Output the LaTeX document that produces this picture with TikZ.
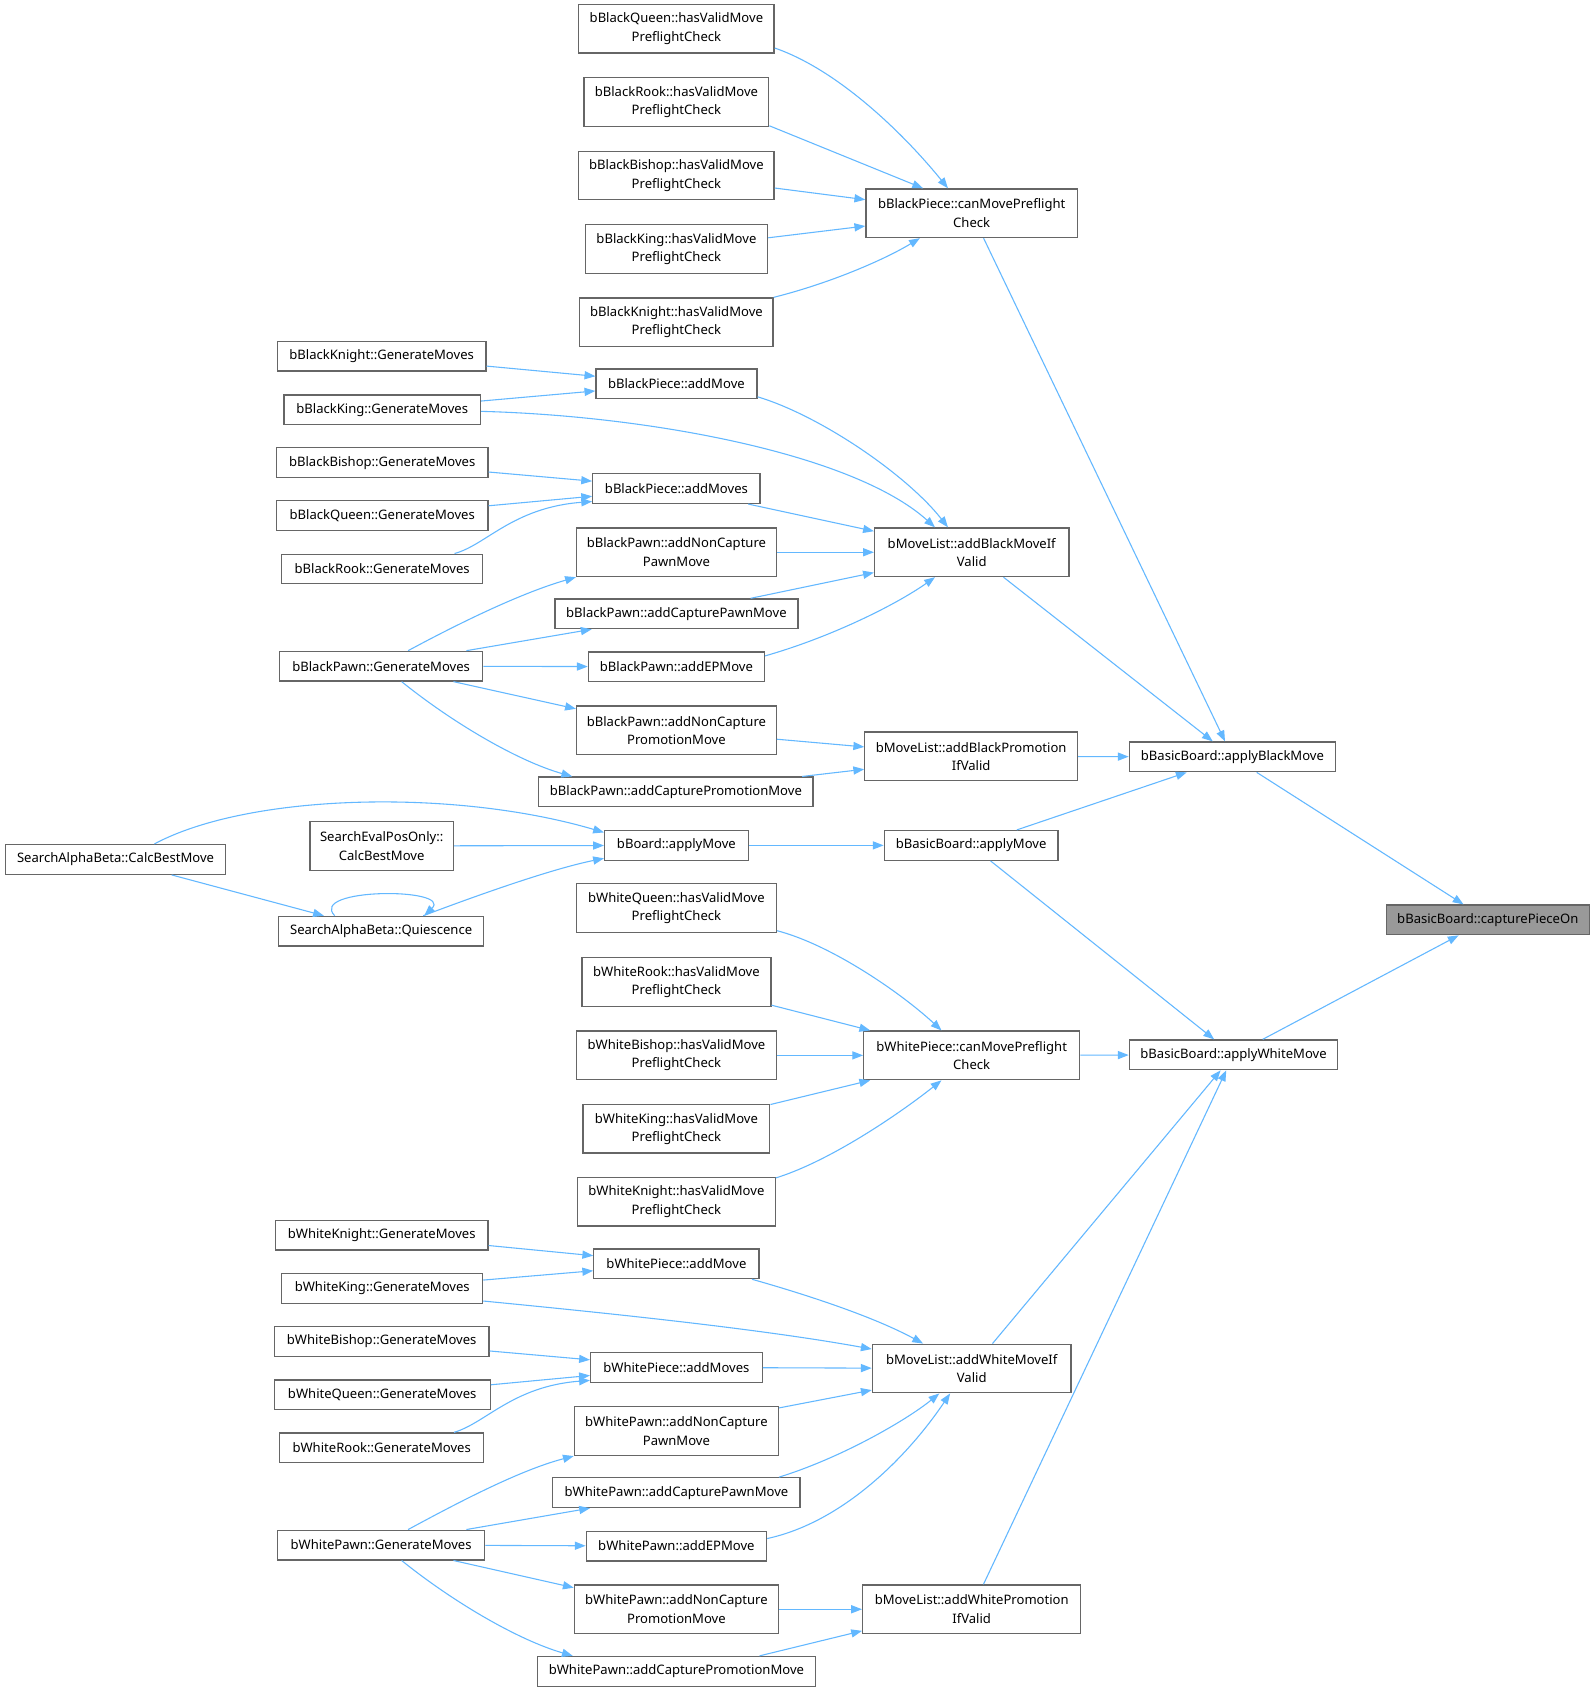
\documentclass[tikz,border=0pt]{standalone}
\usepackage{fontspec}
\setmainfont{Noto Sans}
\usetikzlibrary{arrows.meta}
\definecolor{edgeblue}{HTML}{63B8FF}
\definecolor{bordergray}{HTML}{666666}
\definecolor{fillgray}{HTML}{999999}
\begin{document}
\begin{tikzpicture}[x=1pt,y=1pt,
  nb/.style={draw=bordergray, line width=1.2pt, fill=white, inner sep=0pt, align=center,
     font=\fontsize{12.1}{17}\selectfont},
  one/.style={nb, minimum height=27.5pt},
  two/.style={nb, minimum height=45pt},
  e/.style={draw=edgeblue, line width=1pt, -{Triangle[length=10pt,width=7.5pt]}}]
\useasboundingbox (0,0) rectangle (1478,-1569);
\fill[white] (0,0) rectangle (1478,-1569);
% right column
\node[one, fill=fillgray, minimum width=188pt] (cap) at (1378,-852) {bBasicBoard::capturePieceOn};
\node[one, minimum width=191pt] (abm) at (1141.5,-701) {bBasicBoard::applyBlackMove};
\node[one, minimum width=193pt] (awm) at (1142.5,-977) {bBasicBoard::applyWhiteMove};
% column 4
\node[two, minimum width=196pt] (cmb) at (900,-197.5) {bBlackPiece::canMovePreflight\\Check};
\node[two, minimum width=180pt] (abv) at (900,-511.5) {bMoveList::addBlackMoveIf\\Valid};
\node[two, minimum width=197pt] (abp) at (899.5,-700.5) {bMoveList::addBlackPromotion\\IfValid};
\node[one, minimum width=161pt] (bam) at (899.5,-783) {bBasicBoard::applyMove};
\node[two, minimum width=200pt] (cmw) at (900,-977.5) {bWhitePiece::canMovePreflight\\Check};
\node[two, minimum width=184pt] (awv) at (900,-1267.5) {bMoveList::addWhiteMoveIf\\Valid};
\node[two, minimum width=202pt] (awp) at (900,-1490.5) {bMoveList::addWhitePromotion\\IfValid};
% column 3
\node[two, minimum width=181pt] (bq) at (626.5,-26.5) {bBlackQueen::hasValidMove\\PreflightCheck};
\node[two, minimum width=171pt] (br) at (626.5,-94.5) {bBlackRook::hasValidMove\\PreflightCheck};
\node[two, minimum width=181pt] (bb) at (626.5,-162.5) {bBlackBishop::hasValidMove\\PreflightCheck};
\node[two, minimum width=169pt] (bk) at (626.5,-230.5) {bBlackKing::hasValidMove\\PreflightCheck};
\node[two, minimum width=179pt] (bn) at (626.5,-298.5) {bBlackKnight::hasValidMove\\PreflightCheck};
\node[one, minimum width=149pt] (bpm) at (626.5,-355.5) {bBlackPiece::addMove};
\node[one, minimum width=155pt] (bpms) at (626.5,-452.5) {bBlackPiece::addMoves};
\node[two, minimum width=185pt] (bncp) at (626.5,-511.5) {bBlackPawn::addNonCapture\\PawnMove};
\node[one, minimum width=225pt] (bcp) at (626.5,-568.5) {bBlackPawn::addCapturePawnMove};
\node[one, minimum width=163pt] (bep) at (626.5,-617.5) {bBlackPawn::addEPMove};
\node[two, minimum width=185pt] (bncpr) at (626.5,-676.5) {bBlackPawn::addNonCapture\\PromotionMove};
\node[one, minimum width=254pt] (bcpr) at (626,-733.5) {bBlackPawn::addCapturePromotionMove};
\node[one, minimum width=133pt] (bapm) at (626.5,-783) {bBoard::applyMove};
\node[two, minimum width=185pt] (wq) at (626.5,-841) {bWhiteQueen::hasValidMove\\PreflightCheck};
\node[two, minimum width=175pt] (wr) at (626.5,-909.5) {bWhiteRook::hasValidMove\\PreflightCheck};
\node[two, minimum width=185pt] (wb) at (626.5,-977.5) {bWhiteBishop::hasValidMove\\PreflightCheck};
\node[two, minimum width=173pt] (wk) at (626.5,-1045.5) {bWhiteKing::hasValidMove\\PreflightCheck};
\node[two, minimum width=183pt] (wn) at (626.5,-1113) {bWhiteKnight::hasValidMove\\PreflightCheck};
\node[one, minimum width=153pt] (wpm) at (626.5,-1170.5) {bWhitePiece::addMove};
\node[one, minimum width=159pt] (wpms) at (626.5,-1266.5) {bWhitePiece::addMoves};
\node[two, minimum width=189pt] (wncp) at (626.5,-1325.5) {bWhitePawn::addNonCapture\\PawnMove};
\node[one, minimum width=229pt] (wcp) at (626.5,-1382.5) {bWhitePawn::addCapturePawnMove};
\node[one, minimum width=167pt] (wep) at (626.5,-1432) {bWhitePawn::addEPMove};
\node[two, minimum width=189pt] (wncpr) at (626.5,-1490.5) {bWhitePawn::addNonCapture\\PromotionMove};
\node[one, minimum width=257pt] (wcpr) at (626.5,-1548) {bWhitePawn::addCapturePromotionMove};
% column 2
\node[one, minimum width=193pt] (gbn) at (353.5,-330) {bBlackKnight::GenerateMoves};
\node[one, minimum width=182pt] (gbk) at (354,-379.5) {bBlackKing::GenerateMoves};
\node[one, minimum width=196pt] (gbb) at (354,-428.5) {bBlackBishop::GenerateMoves};
\node[one, minimum width=196pt] (gbq) at (354,-477.5) {bBlackQueen::GenerateMoves};
\node[one, minimum width=186pt] (gbr) at (354,-527) {bBlackRook::GenerateMoves};
\node[one, minimum width=188pt] (gbp) at (353,-617) {bBlackPawn::GenerateMoves};
\node[two, minimum width=133pt] (sep) at (353.5,-783.5) {SearchEvalPosOnly::\\CalcBestMove};
\node[one, minimum width=190pt] (qui) at (353,-862.5) {SearchAlphaBeta::Quiescence};
\node[one, minimum width=197pt] (gwn) at (353.5,-1144) {bWhiteKnight::GenerateMoves};
\node[one, minimum width=186pt] (gwk) at (354,-1193.5) {bWhiteKing::GenerateMoves};
\node[one, minimum width=199pt] (gwb) at (353.5,-1242.5) {bWhiteBishop::GenerateMoves};
\node[one, minimum width=200pt] (gwq) at (354,-1292) {bWhiteQueen::GenerateMoves};
\node[one, minimum width=189pt] (gwr) at (353.5,-1341) {bWhiteRook::GenerateMoves};
\node[one, minimum width=192pt] (gwp) at (353,-1431) {bWhitePawn::GenerateMoves};
% column 1
\node[one, minimum width=204pt] (cab) at (107,-796) {SearchAlphaBeta::CalcBestMove};
% edges to capturePieceOn / apply moves
\draw[e] (abm) -- (cap);
\draw[e] (awm) -- (cap);
\draw[e] (cmb) -- (abm);
\draw[e] (abv) -- (abm);
\draw[e] (abp) -- (abm);
\draw[e] (bam) -- (abm);
\draw[e] (bam) -- (awm);
\draw[e] (cmw) -- (awm);
\draw[e] (awv) -- (awm);
\draw[e] (awp) -- (awm);
% black preflight
\draw[e] ([yshift=-18pt]bq.east) .. controls (777,-65) and (838,-125) .. ([xshift=-22pt]cmb.north);
\draw[e] ([yshift=-22pt]br.east) -- ([xshift=-45pt]cmb.north);
\draw[e] (bb) -- (cmb);
\draw[e] (bk) -- (cmb);
\draw[e] (bn.north east) .. controls (770,-262) and (820,-240) .. ([xshift=-48pt]cmb.south);
% black move list
\draw[e] ([yshift=-12pt]bpm.east) .. controls (760,-385) and (840,-440) .. ([xshift=-22pt]abv.north);
\draw[e] ([yshift=-1.5pt]gbk.east) .. controls (600,-385) and (790,-420) .. ([xshift=-34pt]abv.north);
\draw[e] (bpms) -- (abv);
\draw[e] (bncp) -- (abv);
\draw[e] (bcp) -- (abv);
\draw[e] ([yshift=10pt]bep.east) .. controls (770,-590) and (830,-560) .. ([xshift=-34pt]abv.south);
\draw[e] (gbn) -- (bpm);
\draw[e] (gbk) -- (bpm);
\draw[e] (gbb) -- (bpms);
\draw[e] (gbq) -- (bpms);
\draw[e] ([xshift=67pt]gbr.north) .. controls (450,-505) and (475,-470) .. ([yshift=-12pt]bpms.west);
\draw[e] ([xshift=25pt]gbp.north) .. controls (420,-580) and (480,-550) .. (bncp.south west);
\draw[e] ([xshift=79pt]gbp.north) -- ([xshift=-78.5pt]bcp.south);
\draw[e] (gbp) -- (bep);
\draw[e] ([xshift=67pt]gbp.south) -- ([yshift=20pt]bncpr.west);
\draw[e] ([xshift=19pt]gbp.south) .. controls (420,-670) and (480,-705) .. ([xshift=-96pt]bcpr.north);
\draw[e] (bncpr) -- (abp);
\draw[e] ([xshift=117pt]bcpr.north) -- ([yshift=-12pt]abp.west);
% apply move
\draw[e] (bapm) -- (bam);
\draw[e] ([xshift=36pt]cab.north) .. controls (230,-735) and (420,-730) .. ([yshift=12pt]bapm.west);
\draw[e] (sep) -- (bapm);
\draw[e] ([xshift=39pt]qui.north) .. controls (440,-830) and (510,-805) .. ([yshift=-12pt]bapm.west);
\draw[e] ([xshift=52pt]cab.south) -- ([xshift=-53pt]qui.north);
\draw[e] ([xshift=-43pt]qui.north) .. controls (285,-822) and (420,-822) .. ([xshift=40pt]qui.north);
% white preflight
\draw[e] ([yshift=-21pt]wq.east) .. controls (770,-875) and (835,-920) .. ([xshift=-28pt]cmw.north);
\draw[e] ([yshift=-21.5pt]wr.east) -- ([xshift=-94pt]cmw.north);
\draw[e] (wb) -- (cmw);
\draw[e] ([yshift=22.5pt]wk.east) -- ([xshift=-94pt]cmw.south);
\draw[e] ([yshift=22pt]wn.east) .. controls (770,-1075) and (835,-1030) .. ([xshift=-28pt]cmw.south);
% white move list
\draw[e] ([xshift=70pt]wpm.south) .. controls (750,-1200) and (810,-1220) .. ([xshift=-45pt]awv.north);
\draw[e] ([yshift=-11.5pt]gwk.east) .. controls (550,-1215) and (700,-1230) .. ([yshift=18pt]awv.west);
\draw[e] (wpms) -- (awv);
\draw[e] ([yshift=21.5pt]wncp.east) -- ([yshift=-20pt]awv.west);
\draw[e] ([xshift=95pt]wcp.north) .. controls (780,-1350) and (840,-1315) .. ([xshift=-30pt]awv.south);
\draw[e] ([yshift=7pt]wep.east) .. controls (780,-1410) and (840,-1350) .. ([xshift=-20pt]awv.south);
\draw[e] (gwn) -- (wpm);
\draw[e] (gwk) -- (wpm);
\draw[e] (gwb) -- (wpms);
\draw[e] (gwq) -- (wpms);
\draw[e] ([xshift=67pt]gwr.north) .. controls (450,-1318) and (475,-1284) .. ([yshift=-12pt]wpms.west);
\draw[e] ([xshift=25pt]gwp.north) .. controls (420,-1394) and (480,-1362) .. (wncp.south west);
\draw[e] ([xshift=79pt]gwp.north) -- ([xshift=-80pt]wcp.south);
\draw[e] (gwp) -- (wep);
\draw[e] ([xshift=67pt]gwp.south) -- ([yshift=20pt]wncpr.west);
\draw[e] ([xshift=19pt]gwp.south) .. controls (420,-1484) and (480,-1519) .. ([xshift=-96pt]wcpr.north);
\draw[e] (wncpr) -- (awp);
\draw[e] ([xshift=77pt]wcpr.north) -- ([yshift=-20pt]awp.west);
\end{tikzpicture}
\end{document}
